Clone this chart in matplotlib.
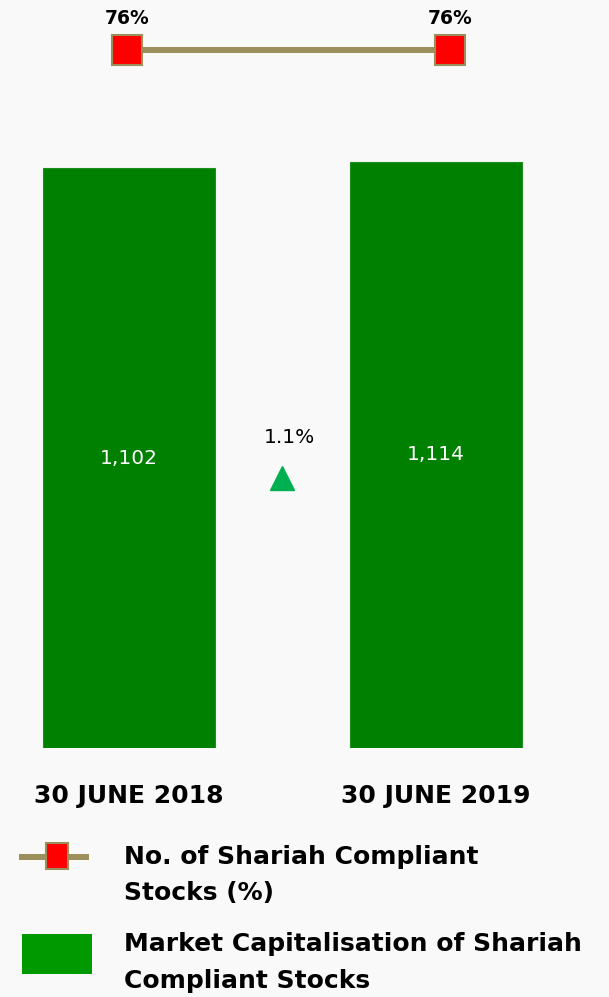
import matplotlib.pyplot as plt
from matplotlib.patches import Rectangle

# datos
dates = ['30 JUNE 2018', '30 JUNE 2019']
market_cap = [1102, 1114]
shariah_pct = [76, 76]
change_txt = '1.1%'
legend_line = ['No. of Shariah Compliant', 'Stocks (%)']
legend_bar = ['Market Capitalisation of Shariah', 'Compliant Stocks']

W, H = 609, 997
bg = '#f9f9fa'
olive = '#9b8f5b'

fig = plt.figure(figsize=(W / 100, H / 100), dpi=100)
fig.patch.set_facecolor(bg)


# ejes en pixeles (izq, arriba, der, abajo)
def px_axes(left, top, right, bottom):
    ax = fig.add_axes([left / W, 1 - bottom / H, (right - left) / W, (bottom - top) / H])
    ax.set_facecolor('none')
    for s in ax.spines.values():
        s.set_visible(False)
    return ax


# barras
ax = px_axes(0, 100, W, 748)
x = range(len(dates))
ax.bar(x, market_cap, width=172 / 306.5, color='#008000', edgecolor='#1f8f1f', linewidth=0.8)
ax.set_xlim(-129 / 306.5, (W - 129) / 306.5)
ax.set_ylim(0, market_cap[0] * (748 - 100) / (748 - 168))
ax.set_yticks([])
ax.set_xticks(list(x))
ax.set_xticklabels(dates, fontsize=18, fontweight='bold')
ax.tick_params(axis='x', length=0, pad=26)

for i, v in enumerate(market_cap):
    ax.text(i, v / 2, f'{v:,}', color='white', fontsize=14.5, ha='center', va='center')

ax.text(289 / W, (748 - 437) / 648, change_txt, transform=ax.transAxes,
        fontsize=14.5, ha='center', va='center')
ax.plot(282 / W, (748 - 478) / 648, marker='^', markersize=17, color='#00b050',
        transform=ax.transAxes, clip_on=False)

# linea de porcentaje
ax2 = px_axes(0, 20, W, 80)
ax2.plot(range(len(shariah_pct)), shariah_pct, color=olive, linewidth=4.3,
         marker='s', markersize=21, markerfacecolor='#ff0000',
         markeredgecolor=olive, markeredgewidth=1.5)
ax2.set_xlim(-127 / 323, (W - 127) / 323)
ax2.set_ylim(70, 82)
ax2.set_xticks([])
ax2.set_yticks([])
for i, v in enumerate(shariah_pct):
    ax2.annotate(f'{v}%', (i, v), xytext=(0, 23), textcoords='offset points',
                 ha='center', va='center', fontsize=13.5, fontweight='bold')

# leyenda manual
lg = px_axes(0, 820, W, H)
lg.set_xlim(0, W)
lg.set_ylim(H, 820)
lg.set_xticks([])
lg.set_yticks([])
lg.plot([19, 89], [857, 857], color=olive, linewidth=4.3, solid_capstyle='butt', zorder=1)
lg.add_patch(Rectangle((46, 843), 22, 26, facecolor='#ff0000', edgecolor=olive,
                       linewidth=1.5, zorder=2))
lg.add_patch(Rectangle((22, 934), 70, 40, facecolor='#009900', edgecolor='none'))

for txt, yy in zip(legend_line + legend_bar, [857, 893, 944, 981]):
    lg.text(124, yy, txt, fontsize=18, fontweight='bold', ha='left', va='center')

plt.savefig('out.png', dpi=100, facecolor=bg)
